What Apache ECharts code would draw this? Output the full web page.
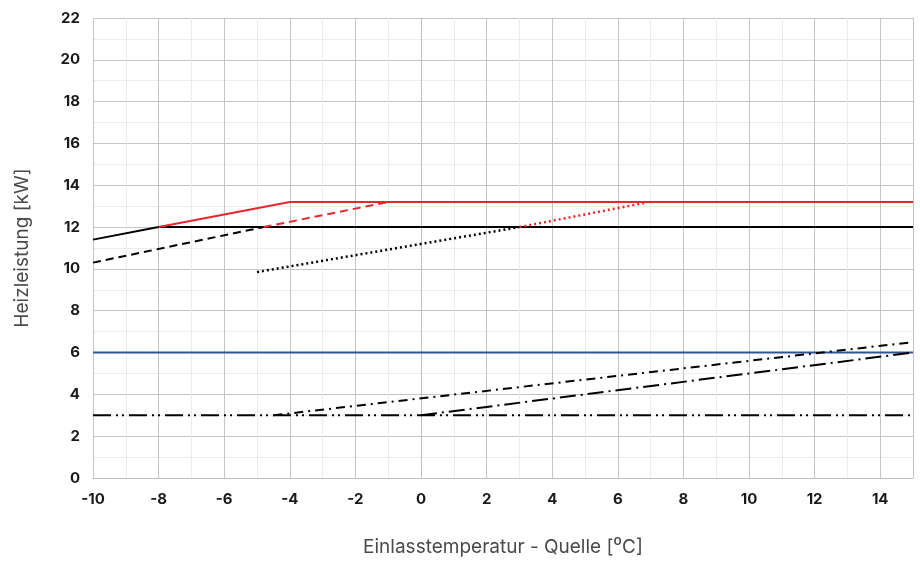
<!DOCTYPE html>
<html><head><meta charset="utf-8">
<script src="https://cdn.jsdelivr.net/npm/echarts@6/dist/echarts.min.js"></script>
<style>html,body{margin:0;padding:0;background:#fff}#c{width:920px;height:562px}</style>
</head><body><div id="c"></div>
<script>
// Data
const xTicks = [-10,-8,-6,-4,-2,0,2,4,6,8,10,12,14];
const yTicks = [0,2,4,6,8,10,12,14,16,18,20,22];

const blackSolidX = [-10, -8, 15];
const blackSolidY = [11.4, 12, 12];
const redSolidX = [-8, -4, 15];
const redSolidY = [12, 13.2, 13.2];
const blackDashX = [-10, -4.8];
const blackDashY = [10.3, 12];
const redDashX = [-4.8, -1];
const redDashY = [12, 13.2];
const blackDotX = [-5, 3];
const blackDotY = [9.85, 12];
const redDotX = [3, 6.8];
const redDotY = [12, 13.15];
const blueX = [-10, 15];
const blueY = [6, 6];
const baseX = [-10, 15];
const baseY = [3, 3];
const upperDashDotX = [-4.5, 15];
const upperDashDotY = [3, 6.5];
const lowerDashDotX = [0, 15];
const lowerDashDotY = [3, 6];

const zip = (xs, ys) => xs.map((x, i) => [x, ys[i]]);
const mk = (xs, ys, color, type, width) => ({
  type: 'line', data: zip(xs, ys), symbol: 'none', silent: true,
  lineStyle: { color: color, width: width || 2, type: type }, z: 3
});

const chart = echarts.init(document.getElementById('c'), null, {renderer: 'canvas'});
const lblFont = {fontFamily: 'Inter', fontWeight: 'bold', fontSize: 15, color: '#1a1a1a'};
chart.setOption({
  animation: false,
  grid: {left: 93, right: 7, top: 18, bottom: 82, containLabel: false},
  xAxis: {
    type: 'value', min: -10, max: 15, interval: 2,
    name: 'Einlasstemperatur - Quelle [⁰C]', nameLocation: 'middle', nameGap: 60,
    nameTextStyle: {fontFamily: 'Inter', fontSize: 19, color: '#4a4a4a'},
    axisLine: {show: true, lineStyle: {color: '#bfbfbf'}},
    axisTick: {show: false},
    axisLabel: {...lblFont, margin: 14, showMaxLabel: false,
      formatter: v => xTicks.includes(v) ? String(v) : ''},
    splitLine: {show: true, lineStyle: {color: '#c4c4c4', width: 1}},
    minorTick: {show: false, splitNumber: 2},
    minorSplitLine: {show: true, lineStyle: {color: '#ececec', width: 1}}
  },
  yAxis: {
    type: 'value', min: 0, max: 22, interval: 2,
    name: 'Heizleistung [kW]', nameLocation: 'middle', nameGap: 61,
    nameTextStyle: {fontFamily: 'Inter', fontSize: 19, color: '#4a4a4a'},
    axisLine: {show: true, lineStyle: {color: '#bfbfbf'}},
    axisTick: {show: false},
    axisLabel: {...lblFont, margin: 13,
      formatter: v => yTicks.includes(v) ? String(v) : ''},
    splitLine: {show: true, lineStyle: {color: '#c4c4c4', width: 1}},
    minorTick: {show: false, splitNumber: 2},
    minorSplitLine: {show: true, lineStyle: {color: '#ececec', width: 1}}
  },
  series: [
    mk(blueX, blueY, '#2f5597', 'solid', 2),
    mk(baseX, baseY, '#000', [18, 5, 2, 4, 2, 5], 2),
    mk(upperDashDotX, upperDashDotY, '#000', [9, 5, 2, 5], 2),
    mk(lowerDashDotX, lowerDashDotY, '#000', [16, 5, 2, 5], 2),
    mk(blackSolidX, blackSolidY, '#000', 'solid', 2),
    mk(redSolidX, redSolidY, '#e8262b', 'solid', 2),
    mk(blackDashX, blackDashY, '#000', [8, 5], 2),
    mk(redDashX, redDashY, '#e8262b', [8, 5], 2),
    mk(blackDotX, blackDotY, '#000', [2, 3], 2.5),
    mk(redDotX, redDotY, '#e8262b', [2, 3], 2.5)
  ]
});
</script></body></html>
